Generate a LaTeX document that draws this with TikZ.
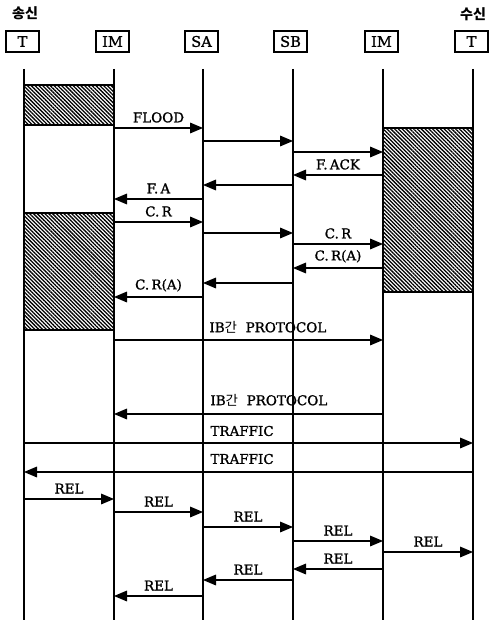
\documentclass[tikz,border=0pt]{standalone}
\usepackage{fontspec}
\setmainfont{DejaVu Serif}[FakeBold=1.2]
\newfontfamily\kr{Noto Sans CJK KR}
\usetikzlibrary{positioning,arrows.meta,patterns.meta}

\begin{document}
\begin{tikzpicture}[x=0.3mm, y=-0.3mm, line width=1pt,
    every node/.style={font=\fontsize{11.5}{13}\selectfont},
    hdr/.style={draw, line width=1.2pt, minimum width=9.9mm, minimum height=6.3mm, inner sep=0pt, font=\fontsize{12.5}{14}\selectfont},
    life/.style={line width=1.1pt},
    msg/.style={-{Triangle[length=3.9mm, width=3.2mm]}, line width=1pt},
    hatchbox/.style={draw, line width=1.1pt, pattern={Lines[angle=-45, distance=2.3pt, line width=1.1pt]}}]
      \useasboundingbox (0,0) rectangle (494,626);
      % lifeline tops
      \coordinate (t1) at (24,69);
      \coordinate (im1) at (114,69);
      \coordinate (sa) at (203,69);
      \coordinate (sb) at (293,69);
      \coordinate (im2) at (383,69);
      \coordinate (t2) at (473,69);
      % headers
      \node[font=\kr\bfseries\fontsize{12}{14}\selectfont] (send) at (25,13) {송신};
      \node[font=\kr\bfseries\fontsize{12}{14}\selectfont] (recv) at (473,14) {수신};
      \node[hdr] (ht1) at (22.5,41.5) {T};
      \node[hdr] (him1) at (112.5,41.5) {IM};
      \node[hdr] (hsa) at (201.5,41.5) {SA};
      \node[hdr] (hsb) at (290.5,41.5) {SB};
      \node[hdr] (him2) at (381.5,41.5) {IM};
      \node[hdr] (ht2) at (471.5,41.5) {T};
      % busy periods
      \draw[hatchbox] (t1 |- 0,85) rectangle (im1 |- 0,125);
      \draw[hatchbox] (t1 |- 0,213) rectangle (im1 |- 0,330);
      \draw[hatchbox] (im2 |- 0,128) rectangle (t2 |- 0,292);
      \foreach \l in {t1,im1,sa,sb,im2,t2}
        \draw[life] (\l) -- (\l |- 0,620);
      % messages
      \foreach \a/\b/\y/\txt in {im1/sa/128/FLOOD, sa/sb/141/, sb/im2/152/, im2/sb/175/F.\,ACK,
          sb/sa/185/, sa/im1/199/F.\,A, im1/sa/222/C.\,R, sa/sb/233/, sb/im2/244/C.\,R,
          im2/sb/268/C.\,R(A), sb/sa/283/, sa/im1/297/C.\,R(A),
          t1/im1/499/REL, im1/sa/512/REL, sa/sb/527/REL, sb/im2/541/REL, im2/t2/552/REL,
          im2/sb/569/REL, sb/sa/580/REL, sa/im1/596/REL}
        \draw[msg] (\a |- 0,\y) -- node[above=0.3mm] {\txt} (\b |- 0,\y);
      \draw[msg] (im1 |- 0,340) -- (im2 |- 0,340);
      \draw[msg] (im2 |- 0,414) -- (im1 |- 0,414);
      \draw[msg] (t1 |- 0,443) -- (t2 |- 0,443);
      \draw[msg] (t2 |- 0,472) -- (t1 |- 0,472);
      \node[anchor=west] (ib1) at (205,327) {IB{\kr 간}\ \ PROTOCOL};
      \node[anchor=west] (ib2) at (206,400) {IB{\kr 간}\ \ PROTOCOL};
      \node[anchor=west] (tr1) at (206,431) {TRAFFIC};
      \node[anchor=west] (tr2) at (206,459) {TRAFFIC};
    \end{tikzpicture}
\end{document}
